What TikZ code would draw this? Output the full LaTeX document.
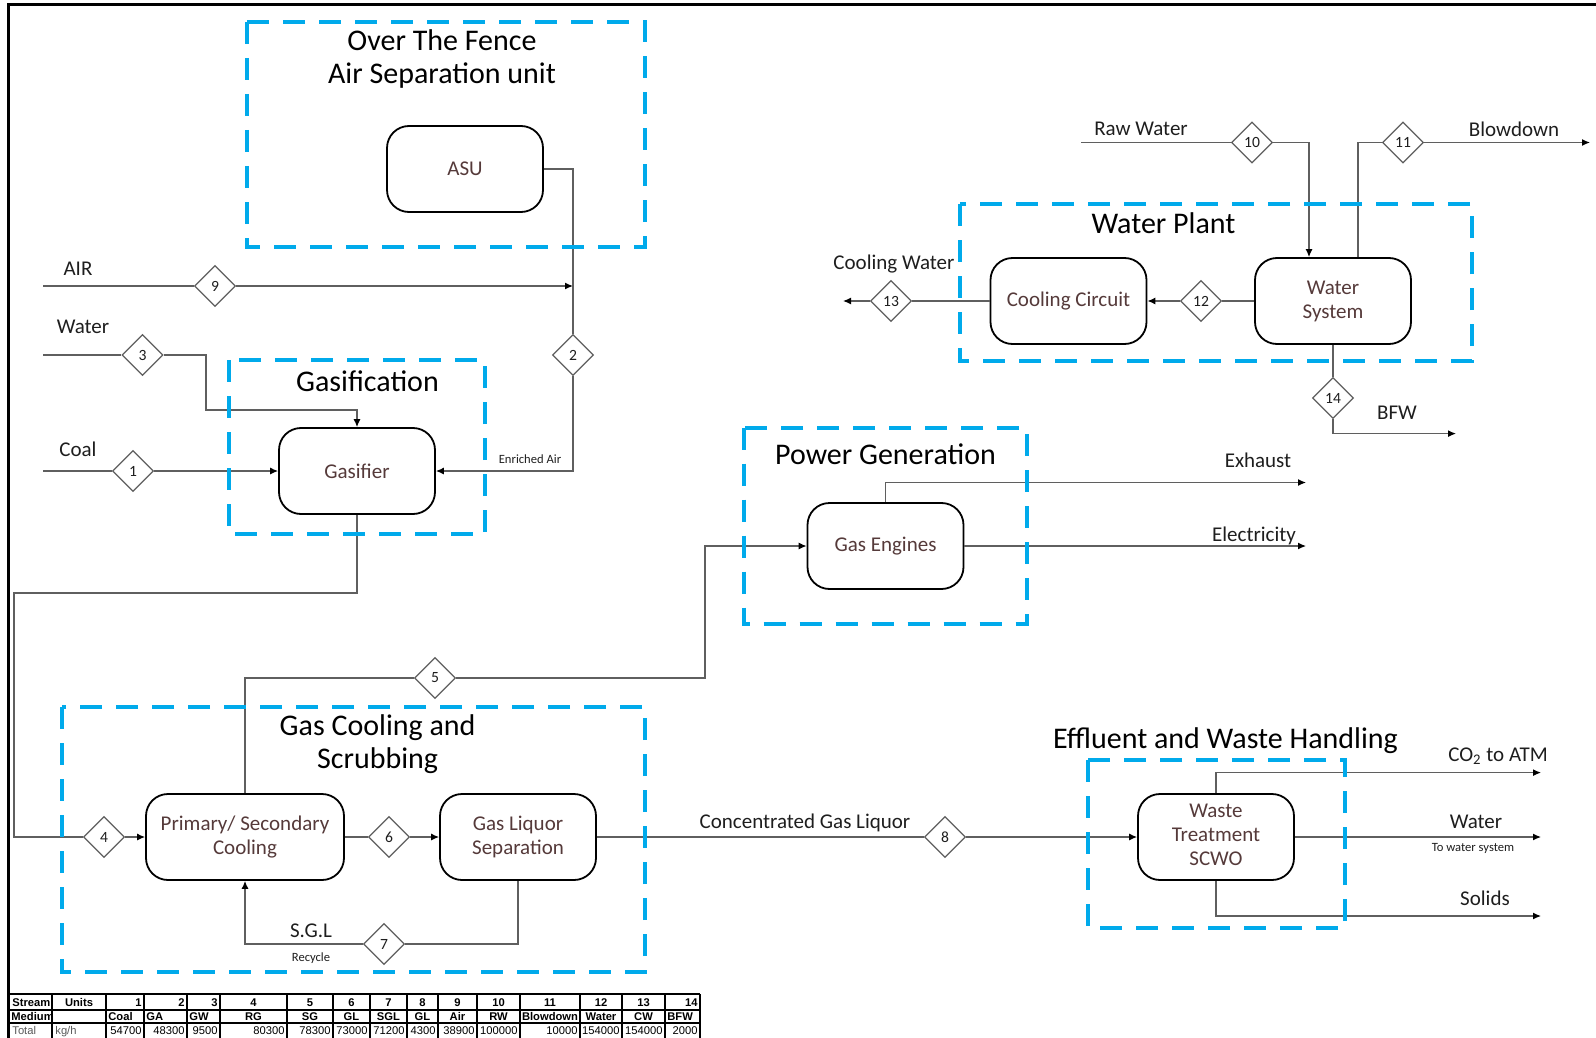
\documentclass[tikz,border=0pt]{standalone}
\usepackage{fontspec}
\setmainfont{Carlito}
\newfontfamily\tabfont{Liberation Sans}
\usetikzlibrary{shapes.geometric,arrows.meta,calc}
\definecolor{dashblue}{RGB}{0,170,235}
\definecolor{linegray}{RGB}{95,95,95}
\definecolor{nodetext}{RGB}{85,58,58}
\definecolor{labtext}{RGB}{30,30,30}
\tikzset{
  proc/.style={draw=black, line width=0.9pt, rounded corners=11pt, fill=white,
    minimum width=78pt, minimum height=43pt, align=center, text=nodetext,
    font=\fontsize{10.5}{12}\selectfont},
  dia/.style={diamond, draw=linegray, fill=white, line width=0.6pt, minimum size=20.5pt,
    inner sep=0pt, text=labtext, font=\fontsize{7.8}{8}\selectfont},
  flow/.style={draw=linegray, line width=0.6pt},
  arr/.style={flow, -{Latex[length=4pt,width=3.5pt,color=black]}},
  grp/.style={draw=dashblue, line width=2pt, dash pattern=on 11pt off 7pt},
  ttl/.style={align=center, text=black, font=\fontsize{15}{16.5}\selectfont},
  lab/.style={text=labtext, font=\fontsize{10.5}{12}\selectfont},
  tiny/.style={text=labtext, font=\fontsize{6.3}{7}\selectfont},
  tabb/.style={inner sep=0pt, font=\tabfont\bfseries\fontsize{5.6}{6}\selectfont},
  tabr/.style={inner sep=0pt, font=\tabfont\fontsize{5.6}{6}\selectfont},
}
\begin{document}
\begin{tikzpicture}[x=0.5pt,y=-0.5pt]
\useasboundingbox (0,0) rectangle (1596,1038);
\clip (0,0) rectangle (1596,1038);

% frame
\draw[line width=1.5pt] (1596,5) -- (8,5) -- (8,1040);

% process nodes
\node[proc] (asu) at (465,169) {ASU};
\node[proc] (gas) at (357,471) {Gasifier};
\node[proc, minimum width=99pt] (psc) at (245,837) {Primary/ Secondary\\Cooling};
\node[proc] (gls) at (518,837) {Gas Liquor\\Separation};
\node[proc] (ge) at (885.5,546) {Gas Engines};
\node[proc] (wt) at (1216,837) {\raisebox{2pt}{\begin{tabular}{@{}c@{}}Waste\\Treatment\\SCWO\end{tabular}}};
\node[proc] (cc) at (1068.5,301) {Cooling Circuit};
\node[proc] (ws) at (1333,301) {Water\\System};

% stream diamonds
\node[dia] (d1) at (133,471) {1};
\node[dia] (d2) at (573,355) {2};
\node[dia] (d3) at (142.5,355) {3};
\node[dia] (d4) at (104,837) {4};
\node[dia] (d5) at (435,678) {5};
\node[dia] (d6) at (389,837) {6};
\node[dia] (d7) at (384,944) {7};
\node[dia] (d8) at (945,837) {8};
\node[dia] (d9) at (215,286) {9};
\node[dia] (d10) at (1252,142.5) {10};
\node[dia] (d11) at (1403,142.5) {11};
\node[dia] (d12) at (1201,301) {12};
\node[dia] (d13) at (891,301) {13};
\node[dia] (d14) at (1333,398) {14};

% free ends and bends
\coordinate (airS) at (43,286);
\coordinate (waterS) at (43,355);
\coordinate (coalS) at (43,471);
\coordinate (w1) at (206,410);
\coordinate (g1) at (14,593);
\coordinate (p5) at (705,546);
\coordinate (exE) at (1306,482.5);
\coordinate (elE) at (1306,546);
\coordinate (co2E) at (1541,772.6);
\coordinate (wE) at (1541,837);
\coordinate (sE) at (1541,916);
\coordinate (rwS) at (1081,142.5);
\coordinate (bdE) at (1590,142.5);
\coordinate (cwE) at (843,301);
\coordinate (bfwE) at (1456,433.6);

% connectors
\draw[flow] (airS) -- (d9);
\draw[arr] (d9) -- (d9 -| d2);
\draw[flow] (asu.east) -| (d2);
\draw[arr] (d2) |- (gas.east);
\draw[flow] (waterS) -- (d3);
\draw[arr] (d3) -| (w1) -| (gas.north);
\draw[flow] (coalS) -- (d1);
\draw[arr] (d1) -- (gas.west);
\draw[flow] (gas.south) |- (g1) |- (d4);
\draw[arr] (d4) -- (psc.west);
\draw[flow] (psc) -- (d6);
\draw[arr] (d6) -- (gls);
\draw[flow] (gls.south) |- (d7);
\draw[arr] (d7) -| (psc.south);
\draw[flow] (psc.north) |- (d5);
\draw[arr] (d5) -| (p5) -- (ge.west);
\draw[arr] (ge.north) |- (exE);
\draw[arr] (ge.east) -- (elE);
\draw[flow] (gls) -- (d8);
\draw[arr] (d8) -- (wt);
\draw[arr] (wt.north) |- (co2E);
\draw[arr] (wt.east) -- (wE);
\draw[arr] (wt.south) |- (sE);
\draw[flow] (rwS) -- (d10);
\draw[arr] (d10) -| ([xshift=-12pt]ws.north);
\draw[flow] ([xshift=12.5pt]ws.north) |- (d11);
\draw[arr] (d11) -- (bdE);
\draw[flow] (ws) -- (d12);
\draw[arr] (d12) -- (cc);
\draw[flow] (cc) -- (d13);
\draw[arr] (d13) -- (cwE);
\draw[flow] (ws.south) -- (d14);
\draw[arr] (d14) |- (bfwE);

% group boxes
\draw[grp] (247,22) rectangle (645,247);
\draw[grp] (229,360) rectangle (485,534);
\draw[grp] (960,204) rectangle (1472,361);
\draw[grp] (744,427.5) rectangle (1027,624);
\draw[grp] (62,707) rectangle (645,972);
\draw[grp] (1088,760) rectangle (1345,928);

% titles
\node[ttl] (tOTF) at (442,59) {Over The Fence\\Air Separation unit};
\node[ttl] (tGas) at (367.5,381) {Gasification};
\node[ttl] (tWP) at (1163.5,223) {Water Plant};
\node[ttl] (tPG) at (885.5,454) {Power Generation};
\node[ttl] (tGC) at (377.6,744) {Gas Cooling and\\Scrubbing};
\node[ttl] (tEW) at (1225.5,741) {Effluent and Waste Handling};

% labels
\node[lab] (lAir) at (78,269) {AIR};
\node[lab] (lWater) at (83,327) {Water};
\node[lab] (lCoal) at (78,449) {Coal};
\node[tiny] (lEA) at (530,459) {Enriched Air};
\node[lab] (lSGL) at (311,931) {S.G.L};
\node[tiny] (lRec) at (311,958) {Recycle};
\node[lab] (lCGL) at (805,822.5) {Concentrated Gas Liquor};
\node[lab] (lEx) at (1258,460) {Exhaust};
\node[lab] (lEl) at (1254,536) {Electricity};
\node[lab] (lCW) at (894,264) {Cooling Water};
\node[lab] (lRW) at (1141,129) {Raw Water};
\node[lab] (lBD) at (1514,129) {Blowdown};
\node[lab] (lBFW) at (1397,413) {BFW};
\node[lab] (lCO2) at (1498,756) {CO\textsubscript{2} to ATM};
\node[lab] (lW2) at (1476,822) {Water};
\node[tiny] (lTWS) at (1473,848) {To water system};
\node[lab] (lSol) at (1485,898) {Solids};

% stream table
\draw[line width=0.6pt] (9,994) -- (700,994) (9,1010) -- (700,1010) (9,1023) -- (700,1023);
\foreach \xv in {9,52,106,144,187,220,287,333,370,407,438,477,520,580,622,665,700}
  \draw[line width=0.6pt] (\xv,994) -- (\xv,1040);
\node[tabb, anchor=base west] (tS) at (12,1006) {Stream};
\node[tabb, anchor=base] (tU) at (79,1006) {Units};
\node[tabb, anchor=base west] (tM) at (11,1020) {Medium};
\node[tabr, anchor=base west, text=black!65] (tT) at (12,1034) {Total};
\node[tabr, anchor=base west, text=black!65] (tK) at (55,1034) {kg/h};
\foreach \xa/\xb/\vA/\vB/\vC in {106/144/1/Coal/54700, 144/187/2/GA/48300, 187/220/3/GW/9500, 665/700/14/BFW/2000}{
  \node[tabb, anchor=base east] at (\xb-2,1006) {\vA};
  \node[tabb, anchor=base west] at (\xa+2,1020) {\vB};
  \node[tabr, anchor=base east] at (\xb-2,1034) {\vC};
}
\foreach \xa/\xb/\vA/\vB/\vC in {220/287/4/RG/80300, 287/333/5/SG/78300, 333/370/6/GL/73000, 370/407/7/SGL/71200, 407/438/8/GL/4300, 438/477/9/Air/38900, 477/520/10/RW/100000, 520/580/11/Blowdown/10000, 580/622/12/Water/154000, 622/665/13/CW/154000}{
  \node[tabb, anchor=base] at ({(\xa+\xb)/2},1006) {\vA};
  \node[tabb, anchor=base] at ({(\xa+\xb)/2},1020) {\vB};
  \node[tabr, anchor=base east] at (\xb-2,1034) {\vC};
}
\end{tikzpicture}
\end{document}
